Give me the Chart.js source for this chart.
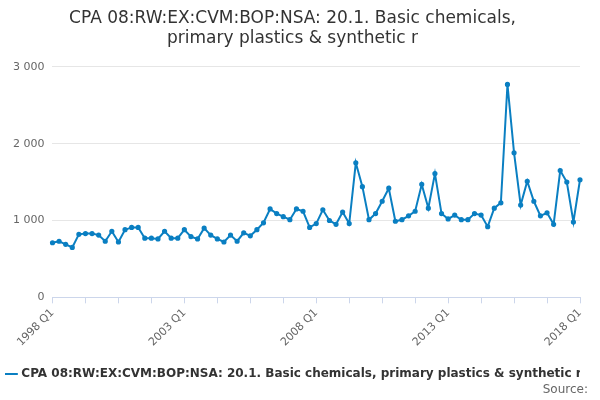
<!DOCTYPE html>
<html>
<head>
<meta charset="utf-8">
<script src="https://cdn.jsdelivr.net/npm/chart.js@4"></script>
<style>
  body { margin: 0; background: #fff; font-family: 'DejaVu Sans', sans-serif; }
  #wrap { position: relative; width: 600px; height: 400px; }
  #source { position: absolute; right: 12px; bottom: 4px; font-size: 12px; color: #666; }
</style>
</head>
<body>
<div id="wrap">
  <canvas id="chart" width="600" height="400"></canvas>
  <div id="source">Source:</div>
</div>
<script>
const years = []
for (let y = 1998; y <= 2018; y++) years.push(y)
const labels = []
years.forEach((y) => {
  for (let q = 1; q <= 4; q++) {
    if (y === 2018 && q > 1) break
    labels.push(`${y} Q${q}`)
  }
})

const values = [
  710, 730, 690, 650,
  820, 830, 830, 810,
  730, 860, 720, 880,
  910, 910, 770, 770,
  760, 860, 770, 770,
  880, 790, 760, 900,
  810, 760, 720, 810,
  730, 840, 800, 880,
  970, 1150, 1090, 1050,
  1010, 1150, 1120, 910,
  960, 1140, 1000, 950,
  1110, 960, 1750, 1440,
  1010, 1090, 1250, 1420,
  990, 1010, 1060, 1120,
  1470, 1160, 1610, 1090,
  1020, 1070, 1010, 1010,
  1090, 1070, 920, 1160,
  1230, 2770, 1880, 1200,
  1510, 1250, 1060, 1100,
  950, 1650, 1500, 980,
  1530,
]

const seriesName = 'CPA 08:RW:EX:CVM:BOP:NSA: 20.1. Basic chemicals, primary plastics & synthetic r'

new Chart(document.getElementById('chart').getContext('2d'), {
  type: 'line',
  data: {
    labels: labels,
    datasets: [{
      label: seriesName,
      data: values,
      borderColor: '#0a7fc2',
      backgroundColor: '#0a7fc2',
      borderWidth: 2,
      pointRadius: 1.6,
      pointHoverRadius: 3,
      tension: 0,
    }],
  },
  options: {
    responsive: false,
    animation: false,
    layout: { padding: { left: 5, right: 20, bottom: 10 } },
    scales: {
      x: {
        offset: false,
        grid: {
          drawOnChartArea: false,
          tickLength: 6,
          color: (c) => (c.index % 5 === 0 ? '#ccd6eb' : 'transparent'),
        },
        border: { color: '#ccd6eb' },
        ticks: {
          autoSkip: false,
          maxRotation: 45,
          minRotation: 45,
          color: '#666',
          font: { size: 11, family: 'DejaVu Sans' },
          callback: (v, i) => (i % 20 === 0 ? labels[i] : ''),
        },
      },
      y: {
        min: 0,
        max: 3000,
        grid: { color: '#e6e6e6', drawTicks: false },
        border: { display: false },
        ticks: {
          stepSize: 1000,
          padding: 8,
          color: '#666',
          font: { size: 11, family: 'DejaVu Sans' },
          callback: (v) => (v >= 1000 ? `${Math.floor(v / 1000)} ${String(v % 1000).padStart(3, '0')}` : v),
        },
      },
    },
    plugins: {
      title: {
        display: true,
        text: ['CPA 08:RW:EX:CVM:BOP:NSA: 20.1. Basic chemicals,', 'primary plastics & synthetic r'],
        color: '#333',
        font: { size: 17, family: 'DejaVu Sans', weight: 'normal' },
        padding: { top: 8, bottom: 18 },
      },
      legend: {
        position: 'bottom',
        labels: {
          color: '#333',
          font: { size: 12, family: 'DejaVu Sans', weight: 'bold' },
          usePointStyle: true,
          pointStyle: 'line',
          boxWidth: 20,
          padding: 16,
        },
      },
      tooltip: { enabled: false },
    },
  },
})
</script>
</body>
</html>
